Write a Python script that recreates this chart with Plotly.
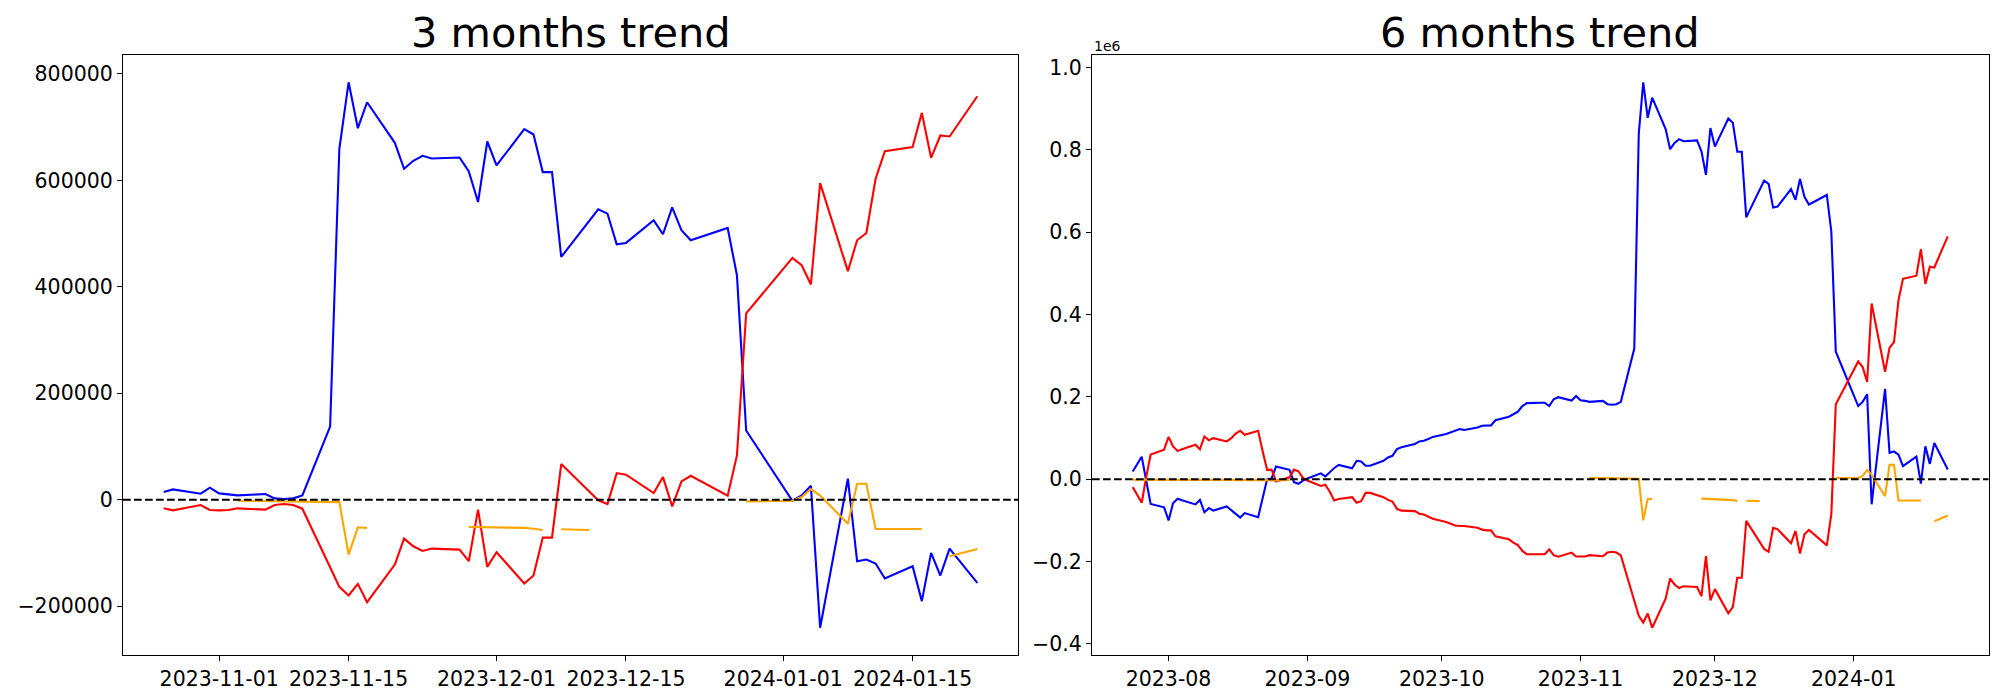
import pandas as pd
import plotly.graph_objects as go

# ---------------- 3 months data ----------------
dates_3m = [
    "2023-10-26", "2023-10-27", "2023-10-30", "2023-10-31",
    "2023-11-01", "2023-11-02", "2023-11-03", "2023-11-06", "2023-11-07", "2023-11-08", "2023-11-09", "2023-11-10",
    "2023-11-13", "2023-11-14", "2023-11-15", "2023-11-16", "2023-11-17", "2023-11-20", "2023-11-21", "2023-11-22",
    "2023-11-23", "2023-11-24", "2023-11-27", "2023-11-28", "2023-11-29", "2023-11-30",
    "2023-12-01", "2023-12-04", "2023-12-05", "2023-12-06", "2023-12-07", "2023-12-08", "2023-12-11", "2023-12-12",
    "2023-12-13", "2023-12-14", "2023-12-15", "2023-12-18", "2023-12-19", "2023-12-20", "2023-12-21", "2023-12-22",
    "2023-12-26", "2023-12-27", "2023-12-28",
    "2024-01-02", "2024-01-03", "2024-01-04", "2024-01-05", "2024-01-08", "2024-01-09", "2024-01-10", "2024-01-11",
    "2024-01-12", "2024-01-15", "2024-01-16", "2024-01-17", "2024-01-18", "2024-01-19", "2024-01-22",
]

blue_3m = [
    14400, 19400, 11250, 22500,
    11900, 10600, 8100, 10600, 2500, 1250, 2500, 8100,
    137500, 659400, 784400, 698100, 746900, 670600, 621900, 636900,
    646300, 641250, 643100, 616900, 559400, 673100,
    628100, 696200, 686250, 615600, 615600, 456250, 523000, 545600,
    537500, 480000, 482500, 525000, 498750, 549400, 506250, 487500,
    510600, 421900, 130000,
    -2000, 8000, 26250, -240600, 39400, -115600, -112500, -120000,
    -148100, -125000, -190600, -100000, -142500, -91900, -156250,
]

red_3m = [
    -16250, -20000, -10000, -19400,
    -20000, -19400, -16250, -18750, -10000, -8100, -10000, -16900,
    -127000, -163750, -180000, -158100, -192500, -121900, -73100, -87500,
    -96250, -91900, -93750, -115600, -18750, -126250,
    -98750, -157500, -142500, -71250, -71250, 66900, 16000, -1250,
    -8100, 50000, 46900, 12500, 42500, -12500, 34400, 45000,
    7500, 83100, 350000,
    454400, 440600, 404400, 595000, 429400, 487500, 501200, 603100,
    655000, 662500, 726900, 642500, 684400, 682500, 758100,
]

orange_3m = [
    None, None, None, None,
    None, None, -2000, -2500, -3000, -3000, -3500, -3500,
    -4000, -4500, -103100, -51900, -53100, None, None, None,
    None, None, None, -51250, -51500, -51000,
    -51250, -53000, -54500, -56900, None, -55600, -56900, None,
    None, None, None, None, None, None, None, None,
    None, None, -3100,
    -2000, 5000, 20000, 7700, -45000, 30000, 30000, -55000,
    -55000, -55000, -55000, None, None, -106250, -92500,
]

# ---------------- 6 months data ----------------
dates_6m = [d.strftime("%Y-%m-%d") for d in pd.bdate_range("2023-07-24", "2023-10-25")] + dates_3m

blue_6m = [
    19000, 37000, 55000, -3000, -60000, -68000,
    -100000, -58000, -47000, -51000,
    -61000, -50000, -80000, -70000, -76000,
    -66000, -76000, -84000, -93000, -82000,
    -92000, -44000, 0, 2000, 31000,
    23000, -7000, -11000, -3000, 2000,
    14500, 7000, 17000, 27500, 35000,
    27000, 45000, 43500, 33000, 33000,
    45000, 53000, 57000, 73500, 78000,
    86000, 92000, 93500, 98000, 103000,
    110000, 114000, 118000, 122000, 120000,
    126000, 130000, 131000, 131000, 143500,
    152000, 158000, 164500, 178000, 185000,
    186000, 186000, 178000,
    194400, 199400, 191250, 202500,
    191900, 190600, 188100, 190600, 182500, 181250, 182500, 188100,
    317500, 839400, 964400, 878100, 926900, 850600, 801900, 816900,
    826300, 821250, 823100, 796900, 739400, 853100,
    808100, 876200, 866250, 795600, 795600, 636250, 703000, 725600,
    717500, 660000, 662500, 705000, 678750, 729400, 686250, 667500,
    690600, 601900, 310000,
    178000, 188000, 206250, -60600, 219400, 64400, 67500, 60000,
    31900, 55000, -10600, 80000, 37500, 88100, 23750,
]

red_6m = [
    -19000, -38000, -57000, 5000, 60000, 72000,
    103000, 80000, 69000, 73000,
    84000, 73000, 104000, 95000, 100000,
    92000, 100000, 111000, 118000, 108000,
    118000, 69000, 23000, 23500, -5000,
    5000, 23500, 19500, 3500, -3000,
    -16000, -13000, -30000, -51500, -48000,
    -43500, -57000, -53000, -33000, -33000,
    -43500, -50000, -54000, -71600, -76000,
    -77300, -83600, -85300, -90000, -95800,
    -103900, -108000, -112000, -113500, -113500,
    -117500, -122300, -124000, -124000, -138500,
    -145800, -153800, -160000, -174000, -182000,
    -182000, -182000, -170000,
    -184250, -188000, -178000, -187400,
    -188000, -187400, -184250, -186750, -178000, -176100, -178000, -184900,
    -295000, -331750, -348000, -326100, -360500, -289900, -241100, -255500,
    -264250, -259900, -261750, -283600, -186750, -294250,
    -266750, -325500, -310500, -239250, -239250, -101100, -152000, -169250,
    -176100, -118000, -121100, -155500, -125500, -180500, -133600, -123000,
    -160500, -84900, 182000,
    286400, 272600, 236400, 427000, 261400, 319500, 333200, 435100,
    487000, 494500, 558900, 474500, 516400, 514500, 590100,
]

orange_6m = [
    -1000, -1000, -1000, -1000, -1000, -1000,
    -1000, -1000, -1000, -1000,
    -1000, -1000, -1000, -1000, -1000,
    -1000, -1000, -1000, -1000, -1000,
    -1000, -1500, -2000, -3000, -3000,
    -1500, None, None, None, None,
    None, None, None, None, None,
    None, None, None, None, None,
    None, None, None, None, None,
    None, None, None, None, None,
    None, None, None, None, None,
    None, None, None, None, None,
    None, None, None, None, None,
    None, None, None,
    None, None, None, None,
    None, None, 3400, 3000, 3000, 2500, 2500, 2000,
    1500, 1000, -99800, -47400, -48000, None, None, None,
    None, None, None, -47000, -47500, -47000,
    -48000, -49500, -50500, -53000, None, -52000, -53000, None,
    None, None, None, None, None, None, None, None,
    None, None, 3000,
    3000, 8000, 23000, 11000, -41000, 35000, 35000, -51500,
    -51500, -51500, -51500, None, None, -102000, -87700,
]

xticks_3m = ["2023-11-01", "2023-11-15", "2023-12-01", "2023-12-15", "2024-01-01", "2024-01-15"]
xticks_6m = ["2023-08-01", "2023-09-01", "2023-10-01", "2023-11-01", "2023-12-01", "2024-01-01"]
xticklabels_6m = ["2023-08", "2023-09", "2023-10", "2023-11", "2023-12", "2024-01"]
yticks_3m = [-200000, 0, 200000, 400000, 600000, 800000]
yticklabels_3m = ["\u2212200000", "0", "200000", "400000", "600000", "800000"]
yticks_6m = [-400000, -200000, 0, 200000, 400000, 600000, 800000, 1000000]
yticklabels_6m = ["\u22120.4", "\u22120.2", "0.0", "0.2", "0.4", "0.6", "0.8", "1.0"]

COL_BLUE, COL_RED, COL_ORANGE = "#0000ff", "#ff0000", "#ffa500"
FONT = "DejaVu Sans"

# The page body has an 8px margin; the figure is sized so that it fills the
# 2000x700 window exactly, and all layout below is given in window pixels.
OFF = 8
W, H = 2000 - OFF, 700 - OFF


def fx(px):
    return (px - OFF) / W


def fy(py):
    return 1 - (py - OFF) / H


def date_range_pad(dates):
    lo, hi = pd.Timestamp(min(dates)), pd.Timestamp(max(dates))
    span = hi - lo
    return [(lo - span * 0.05).isoformat(), (hi + span * 0.05).isoformat()]


def val_range_pad(*series):
    vals = [v for s in series for v in s if v is not None]
    lo, hi = min(vals), max(vals)
    span = hi - lo
    return [lo - 0.05 * span, hi + 0.05 * span]


fig = go.Figure()
for xa, ya, d, b, r, o in [("x", "y", dates_3m, blue_3m, red_3m, orange_3m),
                           ("x2", "y2", dates_6m, blue_6m, red_6m, orange_6m)]:
    for vals, col in [(b, COL_BLUE), (r, COL_RED), (o, COL_ORANGE)]:
        fig.add_trace(go.Scatter(x=d, y=vals, mode="lines", xaxis=xa, yaxis=ya,
                                 line=dict(color=col, width=2.1), connectgaps=False,
                                 showlegend=False, hoverinfo="skip"))

# panel geometry (window pixels)
L1, R1 = 123, 1018
L2, R2 = 1092, 1988.5
TOP, BOT = 55, 655

axis_common = dict(showline=True, mirror=True, linecolor="black", linewidth=1.1,
                   ticks="outside", ticklen=5, tickwidth=1.1, tickcolor="black",
                   showgrid=False, zeroline=False,
                   tickfont=dict(family=FONT, size=20.5, color="black"))

fig.update_layout(
    width=W, height=H, autosize=False,
    margin=dict(l=0, r=0, t=0, b=0),
    paper_bgcolor="white", plot_bgcolor="white",
    font=dict(family=FONT, color="black"),
    xaxis=dict(domain=[fx(L1), fx(R1)], type="date", range=date_range_pad(dates_3m),
               tickvals=xticks_3m, ticktext=xticks_3m, anchor="y", **axis_common),
    yaxis=dict(domain=[fy(BOT), fy(TOP)], range=val_range_pad(blue_3m, red_3m, orange_3m),
               tickvals=yticks_3m, ticktext=yticklabels_3m, anchor="x", **axis_common),
    xaxis2=dict(domain=[fx(L2), fx(R2)], type="date", range=date_range_pad(dates_6m),
                tickvals=xticks_6m, ticktext=xticklabels_6m, anchor="y2", **axis_common),
    yaxis2=dict(domain=[fy(BOT), fy(TOP)], range=val_range_pad(blue_6m, red_6m, orange_6m),
                tickvals=yticks_6m, ticktext=yticklabels_6m, anchor="x2", **axis_common),
)

# dashed zero lines spanning each panel
for xr, yr in [("x domain", "y"), ("x2 domain", "y2")]:
    fig.add_shape(type="line", xref=xr, yref=yr, x0=0, x1=1, y0=0, y1=0,
                  line=dict(color="black", width=2.1, dash="7.7px,3.3px"), layer="above")

# titles
for text, l, r in [("3 months trend", L1, R1), ("6 months trend", L2, R2)]:
    fig.add_annotation(text=text, xref="paper", yref="paper", x=fx((l + r) / 2),
                       y=fy(32.5), xanchor="center", yanchor="middle", showarrow=False,
                       font=dict(family=FONT, size=41.5, color="black"))

# offset text of the right y axis
fig.add_annotation(text="1e6", xref="paper", yref="paper", x=fx(L2), y=fy(46),
                   xanchor="left", yanchor="middle", showarrow=False,
                   font=dict(family=FONT, size=14, color="black"))

fig.write_html("out.html")
